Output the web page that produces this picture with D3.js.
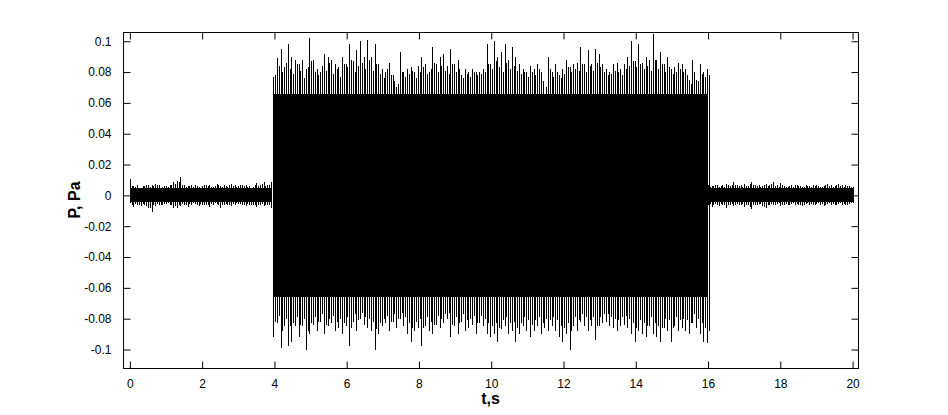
<!DOCTYPE html>
<html><head><meta charset="utf-8">
<script src="https://cdn.jsdelivr.net/npm/d3@7/dist/d3.min.js"></script>
<style>body{margin:0;background:#fff}</style></head>
<body>
<script>
// ---- data ----
const xTicks = [0, 2, 4, 6, 8, 10, 12, 14, 16, 18, 20];
const yTicks = [-0.1, -0.08, -0.06, -0.04, -0.02, 0, 0.02, 0.04, 0.06, 0.08, 0.1];
const yTickLabels = ["-0.1", "-0.08", "-0.06", "-0.04", "-0.02", "0", "0.02", "0.04", "0.06", "0.08", "0.1"];
const sampleStep = 0.1;   // s between main peak readings
const halfStep = 0.05;    // secondary peaks sit half-way between

// quiet section before the tone (t = 0 ... 3.9 s)
const quiet1Start = 0.0;
const quiet1Upper = [0.0108,0.006,0.0065,0.005,0.006,0.007,0.0065,0.0075,0.007,0.0055,
  0.006,0.0065,0.009,0.0095,0.012,0.007,0.006,0.0065,0.007,0.0055,
  0.006,0.0065,0.007,0.0055,0.0075,0.006,0.007,0.0055,0.0075,0.0065,
  0.006,0.0065,0.007,0.006,0.0055,0.008,0.0065,0.009,0.007,0.0085];
const quiet1Lower = [-0.005,-0.0075,-0.006,-0.007,-0.006,-0.0085,-0.011,-0.007,-0.006,-0.0065,
  -0.0055,-0.006,-0.008,-0.0085,-0.007,-0.006,-0.0075,-0.006,-0.0055,-0.007,
  -0.006,-0.0065,-0.0075,-0.006,-0.0055,-0.008,-0.0065,-0.006,-0.007,-0.0065,
  -0.0055,-0.006,-0.007,-0.0065,-0.006,-0.0075,-0.0065,-0.007,-0.006,-0.008];
const quiet1Upper2 = [0.006,0.0055,0.005,0.006,0.0065,0.0055,0.006,0.0065,0.005,0.006,
  0.0055,0.007,0.0075,0.0085,0.0065,0.0055,0.006,0.0055,0.006,0.005,
  0.0065,0.006,0.0055,0.006,0.0065,0.0055,0.006,0.0065,0.006,0.0055,
  0.0065,0.006,0.0055,0.005,0.0065,0.006,0.0075,0.006,0.0065,0.007];
const quiet1Lower2 = [-0.0065,-0.0055,-0.006,-0.0055,-0.007,-0.0085,-0.006,-0.0055,-0.006,-0.0055,
  -0.005,-0.0065,-0.007,-0.006,-0.0055,-0.0065,-0.0055,-0.005,-0.006,-0.0055,
  -0.006,-0.0065,-0.0055,-0.005,-0.0065,-0.006,-0.0055,-0.006,-0.0055,-0.005,
  -0.0055,-0.006,-0.0055,-0.006,-0.0065,-0.006,-0.0055,-0.006,-0.0065,-0.006];

// loud section (t = 3.97 ... 15.97 s)
const loudStart = 3.97;
const loudUpper = [0.077,0.089,0.095,0.083,0.098,0.09,0.088,0.085,0.088,0.082,
  0.102,0.088,0.082,0.08,0.092,0.09,0.088,0.085,0.083,0.09,
  0.085,0.098,0.087,0.094,0.1,0.09,0.101,0.09,0.098,0.085,
  0.082,0.08,0.086,0.078,0.07,0.093,0.08,0.082,0.083,0.08,
  0.084,0.09,0.085,0.08,0.096,0.085,0.09,0.092,0.084,0.095,
  0.085,0.088,0.078,0.082,0.08,0.082,0.08,0.08,
  0.082,0.098,0.085,0.1,0.09,0.093,0.098,0.088,0.096,0.09,
  0.085,0.082,0.08,0.084,0.082,0.085,0.08,0.065,0.09,0.08,
  0.085,0.078,0.082,0.088,0.083,0.085,0.086,0.096,0.085,0.094,
  0.085,0.095,0.092,0.085,0.082,0.08,0.085,0.086,0.082,0.085,
  0.09,0.1,0.087,0.098,0.086,0.09,0.088,0.105,0.088,0.093,
  0.085,0.09,0.082,0.083,0.086,0.085,0.082,0.075,0.088,0.075,
  0.085,0.08,0.082];
const loudLower = [-0.092,-0.083,-0.099,-0.085,-0.098,-0.095,-0.085,-0.092,-0.085,-0.1,
  -0.09,-0.084,-0.088,-0.082,-0.09,-0.085,-0.083,-0.088,-0.086,-0.09,
  -0.085,-0.098,-0.082,-0.088,-0.08,-0.084,-0.086,-0.088,-0.1,-0.09,
  -0.085,-0.083,-0.088,-0.082,-0.086,-0.08,-0.085,-0.09,-0.095,-0.088,
  -0.086,-0.098,-0.085,-0.088,-0.09,-0.084,-0.086,-0.083,-0.08,-0.092,
  -0.085,-0.09,-0.082,-0.088,-0.086,-0.084,-0.09,-0.083,
  -0.085,-0.09,-0.092,-0.09,-0.095,-0.087,-0.085,-0.09,-0.088,-0.095,
  -0.09,-0.085,-0.088,-0.092,-0.088,-0.085,-0.09,-0.086,-0.088,-0.085,
  -0.088,-0.092,-0.095,-0.09,-0.1,-0.085,-0.088,-0.082,-0.085,-0.088,
  -0.085,-0.094,-0.085,-0.083,-0.082,-0.085,-0.086,-0.088,-0.085,-0.084,
  -0.086,-0.09,-0.095,-0.088,-0.09,-0.092,-0.085,-0.09,-0.092,-0.095,
  -0.086,-0.088,-0.095,-0.085,-0.088,-0.086,-0.088,-0.09,-0.083,-0.086,
  -0.09,-0.095,-0.096];
const loudUpper2 = [0.078,0.084,0.08,0.086,0.082,0.079,0.085,0.081,0.076,0.083,
  0.087,0.08,0.078,0.084,0.081,0.086,0.079,0.082,0.077,0.085,
  0.083,0.088,0.08,0.084,0.086,0.082,0.088,0.081,0.085,0.079,
  0.076,0.082,0.078,0.074,0.072,0.08,0.077,0.079,0.081,0.076,
  0.08,0.083,0.079,0.082,0.086,0.08,0.084,0.081,0.079,0.085,
  0.08,0.082,0.076,0.079,0.077,0.08,0.078,0.079,
  0.08,0.085,0.082,0.087,0.083,0.08,0.086,0.082,0.084,0.081,
  0.079,0.08,0.077,0.08,0.078,0.082,0.074,0.07,0.082,0.077,
  0.08,0.076,0.079,0.083,0.08,0.082,0.081,0.085,0.08,0.084,
  0.081,0.086,0.083,0.08,0.078,0.079,0.081,0.08,0.078,0.082,
  0.084,0.087,0.083,0.085,0.082,0.084,0.081,0.088,0.082,0.085,
  0.08,0.083,0.079,0.08,0.082,0.08,0.078,0.072,0.08,0.074,
  0.079,0.077,0.078];
const loudLower2 = [-0.082,-0.078,-0.088,-0.08,-0.085,-0.083,-0.079,-0.084,-0.08,-0.088,
  -0.083,-0.079,-0.082,-0.077,-0.084,-0.08,-0.078,-0.082,-0.08,-0.083,
  -0.079,-0.086,-0.077,-0.081,-0.076,-0.079,-0.08,-0.082,-0.087,-0.083,
  -0.08,-0.078,-0.082,-0.077,-0.08,-0.076,-0.079,-0.083,-0.086,-0.082,
  -0.08,-0.086,-0.079,-0.082,-0.084,-0.078,-0.08,-0.077,-0.076,-0.084,
  -0.079,-0.083,-0.077,-0.081,-0.08,-0.078,-0.083,-0.078,
  -0.08,-0.083,-0.085,-0.083,-0.086,-0.081,-0.079,-0.083,-0.082,-0.086,
  -0.083,-0.079,-0.081,-0.084,-0.081,-0.079,-0.083,-0.08,-0.081,-0.079,
  -0.081,-0.085,-0.086,-0.083,-0.088,-0.079,-0.081,-0.077,-0.079,-0.081,
  -0.079,-0.085,-0.079,-0.077,-0.077,-0.079,-0.08,-0.081,-0.079,-0.078,
  -0.08,-0.083,-0.086,-0.081,-0.083,-0.085,-0.079,-0.083,-0.085,-0.086,
  -0.08,-0.081,-0.086,-0.079,-0.081,-0.08,-0.081,-0.083,-0.077,-0.08,
  -0.083,-0.086,-0.088];

// quiet section after the tone (t = 16.0 ... 20.0 s)
const quiet2Start = 16.0;
const quiet2Upper = [0.0065,0.006,0.007,0.0055,0.0065,0.0075,0.006,0.0085,0.007,0.0065,
  0.0075,0.006,0.0085,0.007,0.0065,0.006,0.0075,0.007,0.0085,0.0065,
  0.008,0.006,0.0055,0.0065,0.007,0.006,0.0055,0.0065,0.006,0.007,
  0.0065,0.0055,0.006,0.0075,0.0065,0.006,0.0075,0.0065,0.007,0.006,0.0055];
const quiet2Lower = [-0.006,-0.0075,-0.0055,-0.007,-0.0065,-0.008,-0.006,-0.007,-0.0055,-0.0065,
  -0.0075,-0.006,-0.009,-0.0065,-0.0055,-0.007,-0.0085,-0.006,-0.0065,-0.0055,
  -0.007,-0.006,-0.0065,-0.0055,-0.006,-0.0065,-0.007,-0.0055,-0.006,-0.0065,
  -0.0055,-0.006,-0.007,-0.0055,-0.006,-0.0065,-0.0055,-0.006,-0.0065,-0.0055,-0.005];
const quiet2Upper2 = [0.0055,0.006,0.0065,0.006,0.0055,0.0065,0.007,0.0065,0.006,0.0055,
  0.006,0.0075,0.0065,0.006,0.0055,0.0065,0.006,0.0075,0.006,0.0055,
  0.0065,0.0055,0.006,0.0055,0.0065,0.006,0.0055,0.006,0.0055,0.006,
  0.006,0.0055,0.0065,0.006,0.0055,0.0065,0.006,0.0055,0.006,0.0055];
const quiet2Lower2 = [-0.0055,-0.0065,-0.006,-0.0055,-0.0065,-0.006,-0.0055,-0.006,-0.0065,-0.0055,
  -0.006,-0.0075,-0.0065,-0.006,-0.0055,-0.0075,-0.006,-0.0055,-0.006,-0.005,
  -0.006,-0.0055,-0.006,-0.005,-0.0055,-0.006,-0.0065,-0.005,-0.0055,-0.006,
  -0.005,-0.0055,-0.006,-0.005,-0.0055,-0.006,-0.005,-0.0055,-0.006,-0.005];

// dense (solid) band of each section: [lower, upper]
const quietCore = [-0.0042, 0.0045];
const loudCore = [-0.066, 0.066];

// ---- chart ----
const W = 948, H = 415;
const svg = d3.select("body").append("svg").attr("width", W).attr("height", H)
  .style("font-family", "'Liberation Sans', Arial, sans-serif");
svg.append("rect").attr("width", W).attr("height", H).attr("fill", "#fff");

const mLeft = 123, mRight = 858, mTop = 32, mBottom = 368;
const x = d3.scaleLinear().domain([-0.19, 20.15]).range([mLeft, mRight]);
const y = d3.scaleLinear().domain([-0.112, 0.106]).range([mBottom, mTop]);

const sections = [
  {start: quiet1Start, upper: quiet1Upper, lower: quiet1Lower, upper2: quiet1Upper2, lower2: quiet1Lower2, core: quietCore},
  {start: loudStart, upper: loudUpper, lower: loudLower, upper2: loudUpper2, lower2: loudLower2, core: loudCore},
  {start: quiet2Start, upper: quiet2Upper, lower: quiet2Lower, upper2: quiet2Upper2, lower2: quiet2Lower2, core: quietCore}
];

const plot = svg.append("g").attr("shape-rendering", "crispEdges");

sections.forEach(s => {
  const n = s.upper.length;
  const t0 = s.start, t1 = s.start + (n - 1) * sampleStep;
  // solid core band
  plot.append("path")
    .datum([t0, t1])
    .attr("d", d3.area().x(d => x(d)).y0(y(s.core[0])).y1(y(s.core[1])))
    .attr("fill", "#000");
  // peaks: main readings and the secondary ones between them
  const pts = s.upper.map((u, i) => ({t: s.start + i * sampleStep, u: u, l: s.lower[i]}))
    .concat(s.upper2.map((u, i) => ({t: s.start + i * sampleStep + halfStep, u: u, l: s.lower2[i]})));
  plot.selectAll(null).data(pts).enter().append("line")
    .attr("x1", d => Math.round(x(d.t)) + 0.5).attr("x2", d => Math.round(x(d.t)) + 0.5)
    .attr("y1", d => y(d.u)).attr("y2", d => y(d.l))
    .attr("stroke", "#000").attr("stroke-width", 1);
});

// axes box
svg.append("rect").attr("x", mLeft + 0.5).attr("y", mTop + 0.5)
  .attr("width", mRight - mLeft).attr("height", mBottom - mTop)
  .attr("fill", "none").attr("stroke", "#000").attr("stroke-width", 1);

const tickLen = 7;
const axB = svg.append("g").attr("transform", `translate(0,${mBottom + 0.5})`)
  .call(d3.axisBottom(x).tickValues(xTicks).tickSizeInner(-tickLen).tickSizeOuter(0).tickPadding(11));
const axT = svg.append("g").attr("transform", `translate(0,${mTop + 0.5})`)
  .call(d3.axisTop(x).tickValues(xTicks).tickSizeInner(-tickLen).tickSizeOuter(0).tickFormat(""));
const axL = svg.append("g").attr("transform", `translate(${mLeft + 0.5},0)`)
  .call(d3.axisLeft(y).tickValues(yTicks).tickSizeInner(-tickLen).tickSizeOuter(0).tickPadding(12)
    .tickFormat((d, i) => yTickLabels[i]));
const axR = svg.append("g").attr("transform", `translate(${mRight + 0.5},0)`)
  .call(d3.axisRight(y).tickValues(yTicks).tickSizeInner(-tickLen).tickSizeOuter(0).tickFormat(""));
[axB, axT, axL, axR].forEach(a => {
  a.select(".domain").remove();
  a.selectAll("text").attr("font-size", 12).attr("fill", "#000")
    .style("font-family", "'Liberation Sans', Arial, sans-serif");
  a.selectAll("line").attr("stroke", "#000");
});

// axis titles
svg.append("text").attr("x", (mLeft + mRight) / 2).attr("y", 404)
  .attr("text-anchor", "middle").attr("font-size", 16).attr("font-weight", "bold")
  .text("t,s");
svg.append("text").attr("transform", `translate(80,${(mTop + mBottom) / 2}) rotate(-90)`)
  .attr("text-anchor", "middle").attr("font-size", 16).attr("font-weight", "bold")
  .text("P, Pa");
</script>
</body></html>
